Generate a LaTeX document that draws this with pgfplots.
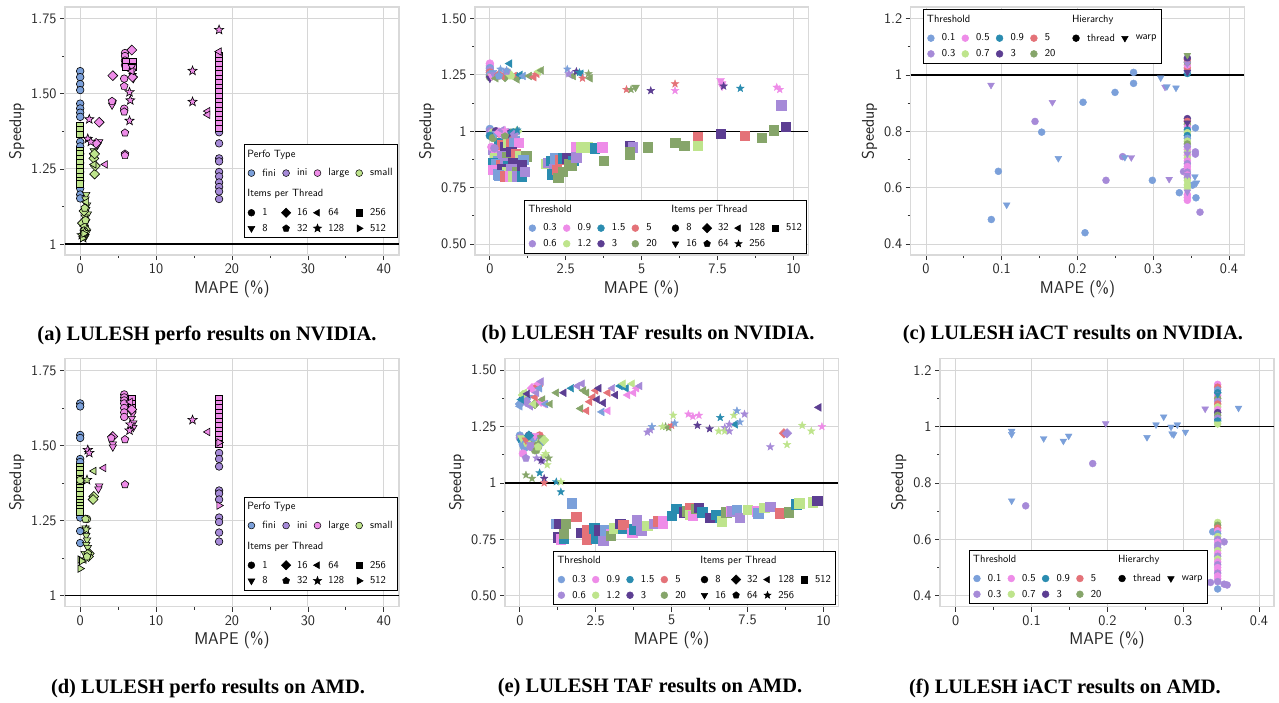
\documentclass[border=0pt]{standalone}
\usepackage{fontspec}
\setmainfont{Liberation Serif}
\usepackage{pgfplots}
\pgfplotsset{compat=1.18}
\usetikzlibrary{plotmarks}

\definecolor{p0}{RGB}{123,160,218}
\definecolor{p1}{RGB}{166,138,216}
\definecolor{p2}{RGB}{238,140,232}
\definecolor{p3}{RGB}{190,228,140}
\definecolor{p4}{RGB}{42,140,176}
\definecolor{p5}{RGB}{92,62,146}
\definecolor{p6}{RGB}{228,114,120}
\definecolor{p7}{RGB}{134,165,106}

% filled star
\pgfdeclareplotmark{fstar}{%
  \pgfpathmoveto{\pgfpointpolar{90}{1.2\pgfplotmarksize}}%
  \pgfpathlineto{\pgfpointpolar{126}{0.5\pgfplotmarksize}}%
  \pgfpathlineto{\pgfpointpolar{162}{1.2\pgfplotmarksize}}%
  \pgfpathlineto{\pgfpointpolar{198}{0.5\pgfplotmarksize}}%
  \pgfpathlineto{\pgfpointpolar{234}{1.2\pgfplotmarksize}}%
  \pgfpathlineto{\pgfpointpolar{270}{0.5\pgfplotmarksize}}%
  \pgfpathlineto{\pgfpointpolar{306}{1.2\pgfplotmarksize}}%
  \pgfpathlineto{\pgfpointpolar{342}{0.5\pgfplotmarksize}}%
  \pgfpathlineto{\pgfpointpolar{18}{1.2\pgfplotmarksize}}%
  \pgfpathlineto{\pgfpointpolar{54}{0.5\pgfplotmarksize}}%
  \pgfpathclose\pgfusepathqfillstroke}

\pgfplotsset{
  colormap={pal}{rgb255=(123,160,218) rgb255=(166,138,216) rgb255=(238,140,232) rgb255=(190,228,140) rgb255=(42,140,176) rgb255=(92,62,146) rgb255=(228,114,120) rgb255=(134,165,106)},
  base/.style={
    scale only axis, width=334pt, height=248pt, anchor=south west,
    axis line style={draw=black!15, line width=1.3pt},
    grid=major, major grid style={draw=black!16, line width=0.9pt},
    tick align=outside, tick pos=left,
    major tick length=5pt, minor tick length=3pt,
    every tick/.style={black!80, line width=0.8pt},
    minor tick num=1,
    /pgf/number format/assume math mode=true,
    ticklabel style={font=\fontsize{14.5}{15}\sffamily, text=black!85},
    label style={font=\fontsize{17}{18}\sffamily, text=black!85},
    xlabel={MAPE (\%)}, ylabel={Speedup},
    legend cell align=left,
    legend style={draw=black, line width=0.9pt, fill=white,
      font=\fontsize{10.5}{12}\sffamily, inner sep=3pt, row sep=3pt,
      /tikz/every even column/.append style={column sep=3.5pt}},
    legend image code/.code={\path (0pt,0pt) (12.5pt,0pt);
      \draw[line width=0.5pt, ##1] plot coordinates {(4pt,0pt)};},
  },
  pt/.style={scatter, only marks, forget plot, point meta=explicit, colormap name=pal,
    point meta min=0, point meta max=7,
    scatter/use mapped color={draw=mapped color, fill=mapped color}},
  ptk/.style={scatter, only marks, forget plot, point meta=explicit, colormap name=pal,
    point meta min=0, point meta max=7,
    scatter/use mapped color={draw=black, fill=mapped color}, line width=0.6pt},
  dn/.style={every mark/.append style={rotate=180}},
  lf/.style={every mark/.append style={rotate=90}},
  rt/.style={every mark/.append style={rotate=-90}},
  dm/.style={mark=square*, every mark/.append style={rotate=45}},
  ttl/.style={empty legend},
  ttla/.style={legend image code/.code={\path (0pt,-9pt) (0pt,4pt);}},
  ttlb/.style={legend image code/.code={\path (0pt,-9pt) (0pt,11pt);}},
}
\newcommand{\lt}[1]{\makebox[0pt][l]{\hspace*{-15pt}#1}}

\begin{document}
\begin{tikzpicture}
\useasboundingbox (0,0) rectangle (1279pt,-702pt);

% ---------------- (a) perfo NVIDIA
\begin{axis}[base, at={(65pt,-255pt)}, xmin=-2, xmax=42, ymin=0.964, ymax=1.788,
  xtick={0,10,20,30,40}, ytick={1,1.25,1.5,1.75}, yticklabels={1,1.25,1.50,1.75},
  legend columns=4, legend style={at={(0.997,0.068)}, anchor=south east}]
\addplot[ptk, mark=*, mark size=3.8pt] table[meta=c] {
x y c
0 1.575 0
0 1.555 0
0 1.532 0
0 1.512 0
0 1.467 0
0 1.451 0
0 1.437 0
0 1.423 0
0 1.34 0
0 1.325 0
0 1.30 0
0 1.27 0
0 1.24 0
0 1.21 0
0 1.185 0
0 1.165 0
0 1.152 0
18.3 1.372 1
18.3 1.335 1
18.3 1.285 1
18.3 1.275 1
18.3 1.24 1
18.3 1.225 1
18.3 1.205 1
18.3 1.19 1
18.3 1.175 1
18.3 1.15 1
5.9 1.635 2
5.9 1.625 2
5.9 1.61 2
5.9 1.595 2
5.8 1.55 2
5.8 1.45 2
0.4 1.07 3
0.6 1.06 3
0.5 1.04 3
};
\addplot[ptk, mark=square*, mark size=3.4pt] table[meta=c] {
x y c
0 1.395 3
0 1.38 3
0 1.365 3
0 1.31 3
0 1.30 3
0 1.285 3
0 1.27 3
0 1.255 3
0 1.24 3
0 1.225 3
0 1.21 3
0 1.20 3
18.3 1.625 2
18.3 1.61 2
18.3 1.595 2
18.3 1.58 2
18.3 1.565 2
18.3 1.55 2
18.3 1.535 2
18.3 1.52 2
18.3 1.505 2
18.3 1.49 2
18.3 1.475 2
18.3 1.46 2
18.3 1.445 2
18.3 1.43 2
18.3 1.415 2
18.3 1.40 2
18.3 1.385 2
6.0 1.605 2
6.0 1.59 2
6.9 1.605 2
6.9 1.59 2
};
\addplot[ptk, dn, mark=triangle*, mark size=4.3pt] table[meta=c] {
x y c
0.8 1.165 3
0.7 1.15 3
0.9 1.13 3
0.8 1.115 3
1.0 1.10 3
0.6 1.09 3
0.8 1.075 3
0.5 1.055 3
0.9 1.04 3
0.7 1.025 3
1.8 1.31 3
1.7 1.295 3
4.3 1.47 2
4.2 1.462 2
2.5 1.34 2
2.3 1.33 2
6.8 1.59 2
6.9 1.575 2
6.9 1.56 2
7.0 1.55 2
};
\addplot[ptk, dm, mark size=3.5pt] table[meta=c] {
x y c
4.3 1.56 2
2.5 1.405 2
6.8 1.645 2
6.9 1.555 2
2.1 1.335 2
1.9 1.233 3
2.0 1.26 3
1.8 1.285 3
1.9 1.30 3
0.5 1.11 3
0.3 1.07 3
0.7 1.05 3
};
\addplot[ptk, lf, mark=triangle*, mark size=4.3pt] table[meta=c] {
x y c
3.3 1.265 2
16.8 1.442 2
16.8 1.43 2
18.3 1.64 2
6.8 1.575 2
1.8 1.265 3
0.8 1.14 3
0.5 1.06 3
};
\addplot[ptk, mark=pentagon*, mark size=4pt] table[meta=c] {
x y c
5.8 1.525 2
5.8 1.44 2
5.9 1.37 2
5.9 1.30 2
5.9 1.295 2
4.2 1.475 2
0.5 1.045 3
0.7 1.08 3
0.3 1.03 3
0.6 1.12 3
};
\addplot[ptk, mark=fstar, mark size=4pt] table[meta=c] {
x y c
18.3 1.712 2
14.8 1.576 2
14.8 1.473 2
6.5 1.505 2
6.6 1.478 2
6.5 1.41 2
1.2 1.415 2
1.0 1.35 2
1.4 1.34 2
0.2 1.03 3
0.4 1.02 3
0.6 1.04 3
};
\addplot[ptk, rt, mark=triangle*, mark size=4.3pt] table[meta=c] {
x y c
0.3 1.02 3
0.5 1.035 3
};
\addplot[black, line width=1.4pt, forget plot] coordinates {(-2,1) (42,1)};
\addlegendimage{ttla}\addlegendentry{\lt{Perfo Type}}
\addlegendimage{ttl}\addlegendentry{\mbox{}}
\addlegendimage{ttl}\addlegendentry{\mbox{}}
\addlegendimage{ttl}\addlegendentry{\mbox{}}
\addlegendimage{only marks, mark=*, mark size=3.4pt, draw=black, fill=p0}\addlegendentry{fini}
\addlegendimage{only marks, mark=*, mark size=3.4pt, draw=black, fill=p1}\addlegendentry{ini}
\addlegendimage{only marks, mark=*, mark size=3.4pt, draw=black, fill=p2}\addlegendentry{large}
\addlegendimage{only marks, mark=*, mark size=3.4pt, draw=black, fill=p3}\addlegendentry{small}
\addlegendimage{ttlb}\addlegendentry{\lt{Items per Thread}}
\addlegendimage{ttl}\addlegendentry{\mbox{}}
\addlegendimage{ttl}\addlegendentry{\mbox{}}
\addlegendimage{ttl}\addlegendentry{\mbox{}}
\addlegendimage{only marks, mark=*, mark size=3.4pt, black}\addlegendentry{1}
\addlegendimage{only marks, mark=square*, mark size=3.3pt, black, mark options={rotate=45}}\addlegendentry{16}
\addlegendimage{only marks, mark=triangle*, mark size=4pt, black, mark options={rotate=90}}\addlegendentry{64}
\addlegendimage{only marks, mark=square*, mark size=3.3pt, black}\addlegendentry{256}
\addlegendimage{only marks, mark=triangle*, mark size=4pt, black, mark options={rotate=180}}\addlegendentry{8}
\addlegendimage{only marks, mark=pentagon*, mark size=3.6pt, black}\addlegendentry{32}
\addlegendimage{only marks, mark=fstar, mark size=3.6pt, black}\addlegendentry{128}
\addlegendimage{only marks, mark=triangle*, mark size=4pt, black, mark options={rotate=-90}}\addlegendentry{512}
\end{axis}

% ---------------- (b) TAF NVIDIA
\begin{axis}[base, at={(475pt,-255pt)}, width=333.3pt, xmin=-0.49, xmax=10.49, ymin=0.451, ymax=1.551,
  xtick={0,2.5,5,7.5,10}, xticklabels={0,2.5,5,7.5,10},
  ytick={0.5,0.75,1,1.25,1.5}, yticklabels={0.50,0.75,1,1.25,1.50},
  legend columns=8, legend style={at={(0.997,0.006)}, anchor=south east}]
\addplot[pt, mark=square*, mark size=4.7pt] table[meta=c] {
x y c
0.1 0.92 1
0.2 0.90 2
0.3 0.95 4
0.4 0.94 6
0.5 0.93 5
0.6 0.95 3
0.7 0.95 6
0.8 0.955 0
0.95 0.95 2
0.15 0.88 3
0.25 0.87 0
0.4 0.89 1
0.55 0.885 7
0.7 0.91 5
0.85 0.90 6
1.0 0.89 3
1.2 0.89 7
0.1 0.86 4
0.2 0.855 0
0.35 0.85 6
0.5 0.86 1
0.6 0.845 4
0.75 0.86 5
0.9 0.85 5
1.1 0.875 0
0.1 0.83 2
0.25 0.81 0
0.4 0.835 5
0.55 0.82 3
0.7 0.835 1
0.9 0.82 7
1.05 0.85 5
0.3 0.805 0
0.5 0.80 6
0.65 0.80 2
0.75 0.80 3
0.9 0.80 1
1.05 0.80 4
1.15 0.82 1
1.85 0.855 3
1.9 0.86 1
2.0 0.87 4
2.1 0.835 1
2.05 0.81 4
2.2 0.83 6
2.15 0.88 0
2.3 0.875 6
2.4 0.88 4
2.25 0.795 7
2.55 0.88 5
2.4 0.82 7
2.6 0.855 7
2.75 0.87 4
2.7 0.85 7
2.85 0.93 2
2.85 0.885 1
3.0 0.93 3
3.2 0.93 3
3.45 0.925 4
3.7 0.93 2
3.75 0.87 7
4.6 0.935 5
4.7 0.93 1
4.6 0.91 7
4.6 0.895 7
5.2 0.93 7
6.1 0.95 7
6.4 0.935 7
6.85 0.975 6
6.85 0.935 3
7.6 0.99 5
8.4 0.98 6
8.95 0.97 7
9.35 1.005 7
9.6 1.115 1
9.75 1.02 5
};
\addplot[pt, mark=*, mark size=4pt] table[meta=c] {
x y c
0 1.30 2
0 1.29 2
0 1.28 0
0 1.27 1
0 1.26 6
0 1.25 0
0 1.24 7
0 1.01 0
0 1.00 1
0.05 0.99 2
0.1 0.995 3
0 0.98 4
0.2 1.0 5
0.3 0.99 6
0.1 0.97 7
0.05 0.93 2
0.15 0.925 1
};
\addplot[pt, dn, mark=triangle*, mark size=4.5pt] table[meta=c] {
x y c
0 1.235 5
0.05 1.245 2
0.1 1.26 0
0.15 1.25 1
0.2 0.99 0
0.4 0.985 1
0.5 0.995 3
0.6 1.0 4
0.7 0.99 6
0.8 1.0 7
4.8 1.195 7
7.6 1.225 2
7.65 1.21 2
7.65 1.20 2
};
\addplot[pt, dm, mark size=3.4pt] table[meta=c] {
x y c
0.3 1.25 6
0.5 1.24 7
0.6 1.26 3
0.9 1.24 4
0.3 0.995 2
0.6 0.99 5
0.9 1.0 3
};
\addplot[pt, lf, mark=triangle*, mark size=4.5pt] table[meta=c] {
x y c
0.65 1.30 4
0.2 1.235 7
0.4 1.245 6
0.8 1.245 6
0.9 1.23 7
1.0 1.25 4
1.1 1.245 0
1.3 1.245 7
1.45 1.24 6
1.55 1.255 6
1.6 1.265 3
1.7 1.27 7
2.65 1.25 1
2.75 1.245 7
3.0 1.255 4
3.3 1.235 7
0.4 1.005 1
0.7 0.995 4
0.9 1.0 0
};
\addplot[pt, mark=pentagon*, mark size=4pt] table[meta=c] {
x y c
0.3 1.245 0
0.7 1.245 3
0.55 1.265 1
0.5 0.98 7
0.8 0.985 1
};
\addplot[pt, mark=fstar, mark size=3.3pt] table[meta=c] {
x y c
0.35 1.275 0
0.55 1.27 0
2.55 1.275 0
2.6 1.255 1
2.85 1.265 5
2.95 1.26 4
3.05 1.235 6
3.25 1.255 7
4.5 1.185 6
4.65 1.185 7
5.3 1.18 5
6.1 1.21 6
6.1 1.18 2
7.7 1.20 5
8.25 1.19 4
9.45 1.195 2
9.55 1.185 2
0.9 1.005 4
0.5 1.005 2
};
\addplot[black, line width=1.4pt, forget plot] coordinates {(-0.49,1) (10.49,1)};
\addlegendimage{ttla}\addlegendentry{\lt{Threshold}}
\addlegendimage{ttl}\addlegendentry{\mbox{}}
\addlegendimage{ttl}\addlegendentry{\mbox{}}
\addlegendimage{ttl}\addlegendentry{\mbox{}}
\addlegendimage{ttl}\addlegendentry{\lt{Items per Thread}}
\addlegendimage{ttl}\addlegendentry{\mbox{}}
\addlegendimage{ttl}\addlegendentry{\mbox{}}
\addlegendimage{ttl}\addlegendentry{\mbox{}}
\addlegendimage{only marks, mark=*, mark size=3.4pt, p0}\addlegendentry{0.3}
\addlegendimage{only marks, mark=*, mark size=3.4pt, p2}\addlegendentry{0.9}
\addlegendimage{only marks, mark=*, mark size=3.4pt, p4}\addlegendentry{1.5}
\addlegendimage{only marks, mark=*, mark size=3.4pt, p6}\addlegendentry{5\hspace*{14pt}}
\addlegendimage{only marks, mark=*, mark size=3.4pt, black}\addlegendentry{8}
\addlegendimage{only marks, mark=square*, mark size=3.3pt, black, mark options={rotate=45}}\addlegendentry{32}
\addlegendimage{only marks, mark=triangle*, mark size=3.8pt, black, mark options={rotate=90}}\addlegendentry{128}
\addlegendimage{only marks, mark=square*, mark size=3.3pt, black}\addlegendentry{512}
\addlegendimage{only marks, mark=*, mark size=3.4pt, p1}\addlegendentry{0.6}
\addlegendimage{only marks, mark=*, mark size=3.4pt, p3}\addlegendentry{1.2}
\addlegendimage{only marks, mark=*, mark size=3.4pt, p5}\addlegendentry{3}
\addlegendimage{only marks, mark=*, mark size=3.4pt, p7}\addlegendentry{20}
\addlegendimage{only marks, mark=triangle*, mark size=3.8pt, black, mark options={rotate=180}}\addlegendentry{16}
\addlegendimage{only marks, mark=pentagon*, mark size=3.5pt, black}\addlegendentry{64}
\addlegendimage{only marks, mark=fstar, mark size=3.1pt, black}\addlegendentry{256}
\end{axis}

% ---------------- (c) iACT NVIDIA
\begin{axis}[base, at={(910.7pt,-255pt)}, width=333.6pt, xmin=-0.0202, xmax=0.4202, ymin=0.361, ymax=1.241,
  xtick={0,0.1,0.2,0.3,0.4}, xticklabels={0,0.1,0.2,0.3,0.4},
  ytick={0.4,0.6,0.8,1,1.2}, yticklabels={0.4,0.6,0.8,1,1.2},
  legend columns=6, legend style={at={(0.037,0.99)}, anchor=north west}]
\addplot[pt, mark=*, mark size=3.5pt] table[meta=c] {
x y c
0.0862 0.487 0
0.0955 0.658 0
0.1439 0.835 1
0.1527 0.797 0
0.2073 0.903 0
0.2099 0.440 0
0.2376 0.626 1
0.2495 0.938 0
0.2596 0.710 1
0.274 1.009 0
0.274 0.970 0
0.2988 0.626 0
0.3344 0.582 0
0.340 0.657 1
0.352 0.609 0
0.3556 0.812 0
0.3556 0.727 1
0.3556 0.719 1
0.3564 0.564 0
0.3617 0.513 1
0.345 0.845 5
0.345 0.835 6
0.345 0.825 7
0.345 0.815 2
0.345 0.805 4
0.345 0.795 3
0.345 0.785 4
0.345 0.775 0
0.345 0.765 3
0.345 0.755 7
0.345 0.745 1
0.345 0.735 2
0.345 0.725 3
0.345 0.715 2
0.345 0.705 3
0.345 0.695 2
0.345 0.685 1
0.345 0.675 2
0.345 0.665 2
0.345 0.655 1
0.345 0.645 2
0.345 0.635 1
0.345 0.625 3
0.345 0.610 3
0.345 0.600 3
0.345 0.575 2
0.345 0.565 2
0.345 0.555 2
0.345 1.005 4
0.345 1.015 0
0.345 1.025 6
0.345 1.035 2
0.345 1.045 7
0.345 1.055 6
0.345 1.060 5
};
\addplot[pt, dn, mark=triangle*, mark size=3.9pt] table[meta=c] {
x y c
0.0858 0.964 1
0.1065 0.539 0
0.1668 0.903 1
0.1747 0.704 0
0.2625 0.708 0
0.271 0.707 1
0.3098 0.990 0
0.3155 0.957 1
0.318 0.959 0
0.321 0.630 1
0.330 0.954 0
0.355 0.639 0
0.357 0.617 0
0.345 0.830 5
0.345 0.740 1
0.345 0.720 1
0.345 0.645 1
0.345 0.585 1
0.345 1.040 1
0.345 1.070 7
0.345 1.010 5
};
\addplot[black, line width=1.4pt, forget plot] coordinates {(-0.0202,1) (0.4202,1)};
\addlegendimage{ttla}\addlegendentry{\lt{Threshold}}
\addlegendimage{ttl}\addlegendentry{\mbox{}}
\addlegendimage{ttl}\addlegendentry{\mbox{}}
\addlegendimage{ttl}\addlegendentry{\mbox{}}
\addlegendimage{ttl}\addlegendentry{\lt{Hierarchy}}
\addlegendimage{ttl}\addlegendentry{\mbox{}}
\addlegendimage{only marks, mark=*, mark size=3.4pt, p0}\addlegendentry{0.1}
\addlegendimage{only marks, mark=*, mark size=3.4pt, p2}\addlegendentry{0.5}
\addlegendimage{only marks, mark=*, mark size=3.4pt, p4}\addlegendentry{0.9}
\addlegendimage{only marks, mark=*, mark size=3.4pt, p6}\addlegendentry{5\hspace*{16pt}}
\addlegendimage{only marks, mark=*, mark size=3.4pt, black}\addlegendentry{thread}
\addlegendimage{only marks, mark=triangle*, mark size=3.8pt, black, mark options={rotate=180}}\addlegendentry{warp}
\addlegendimage{only marks, mark=*, mark size=3.4pt, p1}\addlegendentry{0.3}
\addlegendimage{only marks, mark=*, mark size=3.4pt, p3}\addlegendentry{0.7}
\addlegendimage{only marks, mark=*, mark size=3.4pt, p5}\addlegendentry{3}
\addlegendimage{only marks, mark=*, mark size=3.4pt, p7}\addlegendentry{20}
\end{axis}

% ---------------- (d) perfo AMD
\begin{axis}[base, at={(65pt,-606.7pt)}, xmin=-2, xmax=42, ymin=0.963, ymax=1.789,
  xtick={0,10,20,30,40}, ytick={1,1.25,1.5,1.75}, yticklabels={1,1.25,1.50,1.75},
  legend columns=4, legend style={at={(0.997,0.065)}, anchor=south east}]
\addplot[ptk, mark=*, mark size=3.8pt] table[meta=c] {
x y c
0 1.64 0
0 1.63 0
0 1.535 0
0 1.525 0
0 1.455 0
0 1.445 0
0 1.26 0
0 1.215 0
0 1.175 0
18.3 1.475 1
18.3 1.455 1
18.3 1.43 1
18.3 1.35 1
18.3 1.34 1
18.3 1.32 1
18.3 1.26 1
18.3 1.245 1
18.3 1.21 1
18.3 1.18 1
5.8 1.67 2
5.8 1.66 2
5.8 1.65 2
5.8 1.64 2
5.8 1.625 2
5.8 1.61 2
5.8 1.595 2
};
\addplot[ptk, mark=square*, mark size=3.4pt] table[meta=c] {
x y c
0 1.43 3
0 1.42 3
0 1.405 3
0 1.39 3
0 1.37 3
0 1.36 3
0 1.35 3
0 1.335 3
0 1.32 3
0 1.31 3
0 1.30 3
0 1.29 3
0 1.28 3
18.3 1.655 2
18.3 1.64 2
18.3 1.625 2
18.3 1.61 2
18.3 1.595 2
18.3 1.58 2
18.3 1.565 2
18.3 1.55 2
18.3 1.535 2
18.3 1.52 2
18.3 1.505 2
6.8 1.655 2
6.8 1.64 2
6.8 1.625 2
};
\addplot[ptk, mark=*, mark size=3.8pt] table[meta=c] {
x y c
0 1.385 3
0.9 1.255 3
};
\addplot[ptk, dn, mark=triangle*, mark size=4.3pt] table[meta=c] {
x y c
0.7 1.225 3
0.8 1.20 3
0.9 1.185 3
0.8 1.17 3
1.0 1.16 3
0.6 1.14 3
4.3 1.505 2
4.3 1.495 2
2.5 1.365 2
2.4 1.355 2
6.9 1.605 2
6.8 1.59 2
7.0 1.575 2
7.0 1.56 2
};
\addplot[ptk, dm, mark size=3.5pt] table[meta=c] {
x y c
4.3 1.53 2
6.8 1.62 2
1.8 1.33 3
1.7 1.32 3
1.2 1.14 3
1.1 1.13 3
};
\addplot[ptk, lf, mark=triangle*, mark size=4.3pt] table[meta=c] {
x y c
3.1 1.425 2
16.8 1.545 2
6.6 1.645 2
1.8 1.415 3
0.5 1.12 3
};
\addplot[ptk, mark=pentagon*, mark size=4pt] table[meta=c] {
x y c
5.9 1.52 2
5.9 1.37 2
4.1 1.525 2
0.7 1.255 3
1.0 1.14 3
0.9 1.13 3
};
\addplot[ptk, mark=fstar, mark size=4pt] table[meta=c] {
x y c
1.0 1.485 2
1.2 1.475 2
14.8 1.585 2
6.5 1.55 2
6.6 1.57 2
0.9 1.385 3
0.8 1.22 3
};
\addplot[ptk, rt, mark=triangle*, mark size=4.3pt] table[meta=c] {
x y c
0 1.12 3
0 1.09 3
0.2 1.115 3
18.3 1.30 2
18.3 1.51 2
};
\addplot[black, line width=1.4pt, forget plot] coordinates {(-2,1) (42,1)};
\addlegendimage{ttla}\addlegendentry{\lt{Perfo Type}}
\addlegendimage{ttl}\addlegendentry{\mbox{}}
\addlegendimage{ttl}\addlegendentry{\mbox{}}
\addlegendimage{ttl}\addlegendentry{\mbox{}}
\addlegendimage{only marks, mark=*, mark size=3.4pt, draw=black, fill=p0}\addlegendentry{fini}
\addlegendimage{only marks, mark=*, mark size=3.4pt, draw=black, fill=p1}\addlegendentry{ini}
\addlegendimage{only marks, mark=*, mark size=3.4pt, draw=black, fill=p2}\addlegendentry{large}
\addlegendimage{only marks, mark=*, mark size=3.4pt, draw=black, fill=p3}\addlegendentry{small}
\addlegendimage{ttlb}\addlegendentry{\lt{Items per Thread}}
\addlegendimage{ttl}\addlegendentry{\mbox{}}
\addlegendimage{ttl}\addlegendentry{\mbox{}}
\addlegendimage{ttl}\addlegendentry{\mbox{}}
\addlegendimage{only marks, mark=*, mark size=3.4pt, black}\addlegendentry{1}
\addlegendimage{only marks, mark=square*, mark size=3.3pt, black, mark options={rotate=45}}\addlegendentry{16}
\addlegendimage{only marks, mark=triangle*, mark size=4pt, black, mark options={rotate=90}}\addlegendentry{64}
\addlegendimage{only marks, mark=square*, mark size=3.3pt, black}\addlegendentry{256}
\addlegendimage{only marks, mark=triangle*, mark size=4pt, black, mark options={rotate=180}}\addlegendentry{8}
\addlegendimage{only marks, mark=pentagon*, mark size=3.6pt, black}\addlegendentry{32}
\addlegendimage{only marks, mark=fstar, mark size=3.6pt, black}\addlegendentry{128}
\addlegendimage{only marks, mark=triangle*, mark size=4pt, black, mark options={rotate=-90}}\addlegendentry{512}
\end{axis}

% ---------------- (e) TAF AMD
\begin{axis}[base, at={(505pt,-606.7pt)}, width=333.3pt, xmin=-0.49, xmax=10.49, ymin=0.451, ymax=1.551,
  xtick={0,2.5,5,7.5,10}, xticklabels={0,2.5,5,7.5,10},
  ytick={0.5,0.75,1,1.25,1.5}, yticklabels={0.50,0.75,1,1.25,1.50},
  legend columns=8, legend style={at={(0.994,0.007)}, anchor=south east}]
\addplot[pt, mark=square*, mark size=4.7pt] table[meta=c] {
x y c
1.7 0.91 0
1.85 0.85 6
1.2 0.82 0
1.3 0.82 5
1.5 0.82 7
1.25 0.76 5
1.35 0.75 2
1.45 0.755 4
1.45 0.775 7
2.0 0.78 5
2.2 0.79 6
2.2 0.75 6
2.45 0.80 4
2.5 0.755 4
2.6 0.79 5
2.75 0.745 1
2.8 0.79 0
3.0 0.775 2
3.0 0.765 7
3.1 0.80 3
3.3 0.82 5
3.4 0.80 4
3.4 0.815 6
3.7 0.78 2
3.75 0.795 4
3.85 0.835 1
4.0 0.79 1
4.2 0.81 3
4.4 0.82 1
4.55 0.83 6
4.7 0.83 2
4.7 0.82 2
5.0 0.855 4
5.15 0.885 4
5.4 0.87 5
5.5 0.875 7
5.6 0.89 6
5.6 0.86 3
5.7 0.855 2
5.8 0.885 7
5.9 0.89 5
6.0 0.87 4
6.25 0.845 5
6.45 0.86 4
6.6 0.845 4
6.65 0.83 3
6.8 0.87 7
6.95 0.875 2
7.0 0.875 1
7.15 0.88 0
7.25 0.845 1
7.5 0.88 3
7.8 0.875 2
7.85 0.865 0
8.05 0.89 3
8.25 0.895 1
8.55 0.865 6
8.85 0.87 7
9.1 0.905 4
9.2 0.91 3
9.65 0.915 3
9.8 0.92 5
};
\addplot[pt, mark=*, mark size=4pt] table[meta=c] {
x y c
0 1.21 0
0 1.20 1
0.05 1.19 4
0.1 1.17 0
0.15 1.155 0
0.1 1.13 2
0.3 1.21 5
0.4 1.18 6
0.5 1.19 7
0.55 1.20 3
0.6 1.16 7
0.5 1.145 7
0.7 1.18 7
0.65 1.21 6
0.25 1.175 3
0.35 1.16 1
0.45 1.20 0
};
\addplot[pt, dn, mark=triangle*, mark size=4.5pt] table[meta=c] {
x y c
0.05 1.20 3
0.2 1.19 6
0.35 1.17 1
0.5 1.21 2
0.7 1.20 7
0.75 1.185 0
0.1 1.37 5
0.3 1.38 0
};
\addplot[pt, dm, mark size=3.4pt] table[meta=c] {
x y c
0.1 1.39 3
0.4 1.42 2
0.6 1.43 6
0.5 1.35 7
0.0 1.35 0
0.2 1.36 1
0.7 1.36 2
8.7 1.22 6
8.8 1.22 1
0.8 1.19 3
0.3 1.21 4
};
\addplot[pt, lf, mark=triangle*, mark size=4.5pt] table[meta=c] {
x y c
0 1.34 0
0.05 1.37 4
0.15 1.40 3
0.25 1.395 5
0.35 1.34 1
0.45 1.35 3
0.5 1.38 6
0.55 1.40 1
0.6 1.44 2
0.65 1.42 0
0.7 1.45 1
0.75 1.37 7
0.8 1.35 2
0.85 1.35 0
1.0 1.35 7
1.2 1.40 7
1.45 1.40 5
1.7 1.42 4
1.9 1.43 1
2.05 1.44 1
2.1 1.41 7
2.2 1.40 7
2.0 1.33 7
2.2 1.32 6
2.3 1.36 6
2.4 1.38 6
2.5 1.41 6
2.55 1.37 5
2.75 1.355 5
2.6 1.42 5
2.7 1.315 0
2.9 1.32 2
2.9 1.40 6
3.05 1.42 1
3.15 1.39 5
3.3 1.43 4
3.5 1.42 4
3.4 1.44 3
3.55 1.39 2
3.75 1.40 2
3.7 1.44 3
3.85 1.42 2
3.95 1.43 1
7.1 1.26 4
9.85 1.335 5
};
\addplot[pt, mark=pentagon*, mark size=4pt] table[meta=c] {
x y c
0.2 1.11 1
0.55 1.145 7
0.6 1.16 3
};
\addplot[pt, mark=fstar, mark size=3.3pt] table[meta=c] {
x y c
4.2 1.225 1
4.3 1.235 1
4.35 1.25 0
4.8 1.25 7
4.9 1.245 7
4.7 1.25 3
5.05 1.30 3
5.0 1.255 6
5.1 1.265 0
5.55 1.305 2
5.7 1.295 2
5.9 1.30 2
5.85 1.255 5
6.25 1.24 5
6.55 1.23 3
6.6 1.29 4
6.75 1.245 1
6.75 1.23 3
6.9 1.23 1
6.9 1.26 1
7.05 1.30 3
7.15 1.32 0
7.25 1.27 0
7.4 1.305 1
8.25 1.16 1
8.8 1.17 3
9.3 1.255 3
9.6 1.23 3
9.95 1.25 2
0.2 1.035 7
0.4 1.02 7
0.55 1.11 1
0.65 1.045 4
0.75 1.095 1
0.8 1.12 3
0.85 1.13 3
0.9 1.08 3
0.95 1.11 7
0.8 1.02 5
0.8 1.00 6
1.2 1.005 4
1.35 1.005 3
1.35 0.96 4
0.7 1.10 5
};
\addplot[black, line width=1.4pt, forget plot] coordinates {(-0.49,1) (10.49,1)};
\addlegendimage{ttla}\addlegendentry{\lt{Threshold}}
\addlegendimage{ttl}\addlegendentry{\mbox{}}
\addlegendimage{ttl}\addlegendentry{\mbox{}}
\addlegendimage{ttl}\addlegendentry{\mbox{}}
\addlegendimage{ttl}\addlegendentry{\lt{Items per Thread}}
\addlegendimage{ttl}\addlegendentry{\mbox{}}
\addlegendimage{ttl}\addlegendentry{\mbox{}}
\addlegendimage{ttl}\addlegendentry{\mbox{}}
\addlegendimage{only marks, mark=*, mark size=3.4pt, p0}\addlegendentry{0.3}
\addlegendimage{only marks, mark=*, mark size=3.4pt, p2}\addlegendentry{0.9}
\addlegendimage{only marks, mark=*, mark size=3.4pt, p4}\addlegendentry{1.5}
\addlegendimage{only marks, mark=*, mark size=3.4pt, p6}\addlegendentry{5\hspace*{14pt}}
\addlegendimage{only marks, mark=*, mark size=3.4pt, black}\addlegendentry{8}
\addlegendimage{only marks, mark=square*, mark size=3.3pt, black, mark options={rotate=45}}\addlegendentry{32}
\addlegendimage{only marks, mark=triangle*, mark size=3.8pt, black, mark options={rotate=90}}\addlegendentry{128}
\addlegendimage{only marks, mark=square*, mark size=3.3pt, black}\addlegendentry{512}
\addlegendimage{only marks, mark=*, mark size=3.4pt, p1}\addlegendentry{0.6}
\addlegendimage{only marks, mark=*, mark size=3.4pt, p3}\addlegendentry{1.2}
\addlegendimage{only marks, mark=*, mark size=3.4pt, p5}\addlegendentry{3}
\addlegendimage{only marks, mark=*, mark size=3.4pt, p7}\addlegendentry{20}
\addlegendimage{only marks, mark=triangle*, mark size=3.8pt, black, mark options={rotate=180}}\addlegendentry{16}
\addlegendimage{only marks, mark=pentagon*, mark size=3.5pt, black}\addlegendentry{64}
\addlegendimage{only marks, mark=fstar, mark size=3.1pt, black}\addlegendentry{256}
\end{axis}

% ---------------- (f) iACT AMD
\begin{axis}[base, at={(940pt,-606.7pt)}, width=334pt, xmin=-0.0207, xmax=0.4198, ymin=0.361, ymax=1.241,
  xtick={0,0.1,0.2,0.3,0.4}, xticklabels={0,0.1,0.2,0.3,0.4},
  ytick={0.4,0.6,0.8,1,1.2}, yticklabels={0.4,0.6,0.8,1,1.2},
  legend columns=6, legend style={at={(0.087,0.011)}, anchor=south west}]
\addplot[pt, mark=*, mark size=3.5pt] table[meta=c] {
x y c
0.0923 0.719 1
0.1807 0.869 1
0.339 0.627 0
0.354 0.591 1
0.336 0.447 1
0.354 0.441 1
0.358 0.438 1
0.3455 1.15 2
0.3455 1.14 6
0.3455 1.13 0
0.3455 1.12 4
0.3455 1.11 2
0.3455 1.10 7
0.3455 1.09 1
0.3455 1.08 6
0.3455 1.07 3
0.3455 1.06 2
0.3455 1.05 5
0.3455 1.04 7
0.3455 1.03 1
0.3455 1.02 4
0.3455 1.01 3
0.3455 0.66 3
0.3455 0.65 7
0.3455 0.64 6
0.3455 0.63 2
0.3455 0.62 0
0.3455 0.61 3
0.3455 0.60 1
0.3455 0.59 2
0.3455 0.58 1
0.3455 0.57 1
0.3455 0.56 3
0.3455 0.55 2
0.3455 0.54 1
0.3455 0.53 3
0.3455 0.52 2
0.3455 0.51 1
0.3455 0.50 2
0.3455 0.49 2
0.3455 0.48 1
0.3455 0.47 2
0.3455 0.46 2
0.3455 0.45 1
0.3455 0.424 0
};
\addplot[pt, dn, mark=triangle*, mark size=3.9pt] table[meta=c] {
x y c
0.0738 0.984 0
0.0738 0.973 0
0.0738 0.737 0
0.116 0.958 0
0.142 0.949 0
0.149 0.967 0
0.1978 1.011 1
0.2523 0.962 0
0.2642 1.007 0
0.2743 1.035 0
0.284 0.999 0
0.2853 0.975 0
0.2875 0.972 0
0.2923 1.007 0
0.303 0.981 0
0.329 1.063 1
0.373 1.066 0
0.3455 1.115 4
0.3455 1.02 4
0.3455 1.01 3
};
\addplot[black, line width=1.4pt, forget plot] coordinates {(-0.0207,1) (0.4198,1)};
\addlegendimage{ttla}\addlegendentry{\lt{Threshold}}
\addlegendimage{ttl}\addlegendentry{\mbox{}}
\addlegendimage{ttl}\addlegendentry{\mbox{}}
\addlegendimage{ttl}\addlegendentry{\mbox{}}
\addlegendimage{ttl}\addlegendentry{\lt{Hierarchy}}
\addlegendimage{ttl}\addlegendentry{\mbox{}}
\addlegendimage{only marks, mark=*, mark size=3.4pt, p0}\addlegendentry{0.1}
\addlegendimage{only marks, mark=*, mark size=3.4pt, p2}\addlegendentry{0.5}
\addlegendimage{only marks, mark=*, mark size=3.4pt, p4}\addlegendentry{0.9}
\addlegendimage{only marks, mark=*, mark size=3.4pt, p6}\addlegendentry{5\hspace*{16pt}}
\addlegendimage{only marks, mark=*, mark size=3.4pt, black}\addlegendentry{thread}
\addlegendimage{only marks, mark=triangle*, mark size=3.8pt, black, mark options={rotate=180}}\addlegendentry{warp}
\addlegendimage{only marks, mark=*, mark size=3.4pt, p1}\addlegendentry{0.3}
\addlegendimage{only marks, mark=*, mark size=3.4pt, p3}\addlegendentry{0.7}
\addlegendimage{only marks, mark=*, mark size=3.4pt, p5}\addlegendentry{3}
\addlegendimage{only marks, mark=*, mark size=3.4pt, p7}\addlegendentry{20}
\end{axis}

% captions
\node[font=\fontsize{20.5}{22}\bfseries] at (207pt,-335pt) {(a) LULESH perfo results on NVIDIA.};
\node[font=\fontsize{20.5}{22}\bfseries] at (648pt,-335pt) {(b) LULESH TAF results on NVIDIA.};
\node[font=\fontsize{20.5}{22}\bfseries] at (1073pt,-335pt) {(c) LULESH iACT results on NVIDIA.};
\node[font=\fontsize{20.5}{22}\bfseries] at (208pt,-688pt) {(d) LULESH perfo results on AMD.};
\node[font=\fontsize{20.5}{22}\bfseries] at (650pt,-688pt) {(e) LULESH TAF results on AMD.};
\node[font=\fontsize{20.5}{22}\bfseries] at (1065pt,-688pt) {(f) LULESH iACT results on AMD.};
\end{tikzpicture}
\end{document}
